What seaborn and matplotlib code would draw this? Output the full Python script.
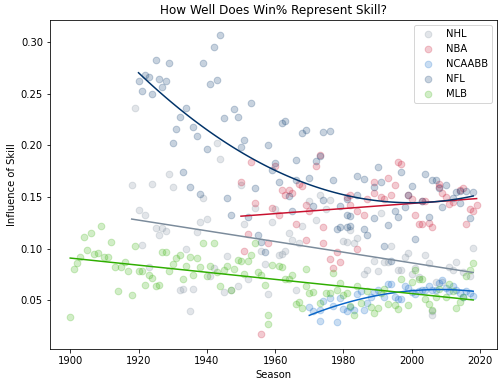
# ==========================================================
# HOW WELL DOES WIN% REPRESENT SKILL?
# ==========================================================

import pandas as pd
import matplotlib
matplotlib.use("Agg")
import matplotlib.pyplot as plt
import seaborn as sns

# ==========================================================
# DATA
# ==========================================================

leagues = ["NHL", "NBA", "NCAABB", "NFL", "MLB"]

nhl_years = [1918, 1919, 1920, 1921, 1922, 1923, 1924, 1925, 1926, 1927,
             1928, 1929, 1930, 1932, 1933, 1934, 1935, 1936, 1937, 1938,
             1939, 1940, 1941, 1942, 1943, 1944, 1945, 1946, 1947, 1949,
             1950, 1951, 1952, 1954, 1956, 1957, 1958, 1959, 1960, 1961,
             1962, 1963, 1964, 1965, 1966, 1967, 1968, 1970, 1972, 1973,
             1975, 1976, 1980, 1981, 1982, 1983, 1984, 1986, 1987, 1989,
             1990, 1991, 1992, 1993, 1994, 1996, 1997, 1998, 1999, 2000,
             2001, 2002, 2004, 2005, 2006, 2006, 2007, 2009, 2011, 2012,
             2013, 2015, 2017, 2018]
nhl_vals = [0.162, 0.236, 0.137, 0.103, 0.133, 0.082, 0.163, 0.120, 0.113, 0.120,
            0.117, 0.172, 0.160, 0.060, 0.061, 0.100, 0.039, 0.061, 0.116, 0.126,
            0.149, 0.129, 0.073, 0.081, 0.202, 0.187, 0.058, 0.093, 0.060, 0.064,
            0.162, 0.124, 0.070, 0.139, 0.098, 0.085, 0.056, 0.126, 0.138, 0.094,
            0.095, 0.098, 0.115, 0.108, 0.060, 0.105, 0.122, 0.146, 0.128, 0.152,
            0.138, 0.147, 0.107, 0.106, 0.118, 0.105, 0.110, 0.075, 0.079, 0.088,
            0.078, 0.134, 0.087, 0.087, 0.102, 0.079, 0.079, 0.092, 0.096, 0.075,
            0.081, 0.072, 0.094, 0.086, 0.039, 0.036, 0.068, 0.068, 0.082, 0.079,
            0.087, 0.077, 0.073, 0.101]

nba_years = [1950, 1951, 1952, 1953, 1954, 1956, 1958, 1959, 1960, 1961,
             1962, 1963, 1964, 1965, 1966, 1967, 1968, 1969, 1969, 1970,
             1972, 1973, 1974, 1974, 1976, 1977, 1978, 1979, 1981, 1982,
             1982, 1984, 1984, 1986, 1987, 1989, 1989, 1991, 1992, 1993,
             1994, 1995, 1996, 1997, 1999, 2000, 2001, 2002, 2003, 2003,
             2004, 2005, 2006, 2008, 2008, 2009, 2010, 2011, 2012, 2014,
             2015, 2016, 2017, 2018, 2019]
nba_vals = [0.165, 0.098, 0.114, 0.184, 0.144, 0.017, 0.105, 0.139, 0.180, 0.133,
            0.157, 0.152, 0.157, 0.154, 0.124, 0.163, 0.161, 0.142, 0.108, 0.136,
            0.180, 0.191, 0.121, 0.105, 0.090, 0.081, 0.097, 0.087, 0.150, 0.142,
            0.152, 0.136, 0.100, 0.133, 0.148, 0.154, 0.165, 0.150, 0.148, 0.168,
            0.152, 0.162, 0.184, 0.182, 0.152, 0.148, 0.133, 0.124, 0.146, 0.124,
            0.146, 0.125, 0.121, 0.163, 0.160, 0.154, 0.150, 0.143, 0.145, 0.157,
            0.159, 0.124, 0.138, 0.136, 0.142]

ncaabb_years = [1970, 1971, 1973, 1973, 1974, 1976, 1977, 1978, 1979, 1980,
                1981, 1982, 1983, 1984, 1985, 1986, 1987, 1988, 1989, 1990,
                1992, 1993, 1994, 1995, 1996, 1997, 1998, 1999, 2000, 2001,
                2002, 2003, 2004, 2005, 2006, 2007, 2008, 2009, 2010, 2011,
                2012, 2013, 2014, 2015, 2016, 2017, 2018]
ncaabb_vals = [0.043, 0.039, 0.030, 0.040, 0.049, 0.052, 0.044, 0.029, 0.052, 0.041,
               0.039, 0.043, 0.040, 0.056, 0.059, 0.040, 0.047, 0.053, 0.058, 0.060,
               0.053, 0.066, 0.066, 0.053, 0.051, 0.051, 0.064, 0.062, 0.058, 0.056,
               0.059, 0.060, 0.060, 0.064, 0.060, 0.060, 0.067, 0.069, 0.062, 0.059,
               0.064, 0.060, 0.057, 0.053, 0.059, 0.057, 0.054]

nfl_years = [1920, 1921, 1922, 1923, 1924, 1925, 1926, 1927, 1928, 1929,
             1930, 1931, 1932, 1933, 1934, 1935, 1936, 1937, 1938, 1939,
             1940, 1941, 1942, 1943, 1944, 1945, 1946, 1947, 1948, 1949,
             1950, 1951, 1952, 1953, 1954, 1955, 1956, 1957, 1958, 1959,
             1960, 1961, 1962, 1963, 1964, 1965, 1966, 1966, 1968, 1969,
             1970, 1971, 1972, 1973, 1974, 1974, 1976, 1977, 1978, 1979,
             1979, 1981, 1981, 1981, 1982, 1982, 1984, 1984, 1986, 1986,
             1987, 1989, 1989, 1990, 1991, 1992, 1993, 1994, 1995, 1996,
             1997, 1998, 1999, 2000, 2001, 2003, 2004, 2005, 2006, 2007,
             2008, 2009, 2010, 2012, 2013, 2014, 2014, 2016, 2017, 2018]
nfl_vals = [0.262, 0.253, 0.268, 0.266, 0.250, 0.283, 0.264, 0.257, 0.262, 0.280,
            0.202, 0.216, 0.228, 0.174, 0.236, 0.160, 0.218, 0.209, 0.153, 0.280,
            0.197, 0.260, 0.295, 0.263, 0.307, 0.227, 0.149, 0.133, 0.235, 0.228,
            0.198, 0.205, 0.131, 0.241, 0.159, 0.113, 0.106, 0.097, 0.200, 0.176,
            0.183, 0.165, 0.222, 0.224, 0.151, 0.136, 0.166, 0.186, 0.212, 0.215,
            0.168, 0.141, 0.185, 0.190, 0.147, 0.213, 0.214, 0.166, 0.119, 0.121,
            0.141, 0.121, 0.148, 0.133, 0.132, 0.122, 0.170, 0.152, 0.167, 0.119,
            0.113, 0.160, 0.130, 0.179, 0.165, 0.102, 0.123, 0.088, 0.136, 0.131,
            0.174, 0.140, 0.152, 0.161, 0.109, 0.146, 0.172, 0.131, 0.166, 0.166,
            0.159, 0.140, 0.162, 0.149, 0.155, 0.156, 0.144, 0.156, 0.130, 0.155]

mlb_years = [1900, 1901, 1902, 1903, 1904, 1905, 1906, 1907, 1908, 1909,
             1910, 1911, 1912, 1913, 1914, 1915, 1916, 1917, 1918, 1919,
             1920, 1921, 1922, 1923, 1924, 1925, 1926, 1927, 1928, 1929,
             1930, 1931, 1932, 1933, 1934, 1935, 1936, 1937, 1938, 1939,
             1940, 1941, 1942, 1943, 1944, 1945, 1946, 1947, 1948, 1949,
             1950, 1951, 1952, 1953, 1954, 1955, 1956, 1957, 1958, 1958,
             1959, 1961, 1962, 1963, 1964, 1965, 1966, 1967, 1968, 1969,
             1969, 1970, 1971, 1973, 1975, 1976, 1977, 1978, 1979, 1980,
             1981, 1982, 1983, 1984, 1985, 1987, 1988, 1989, 1990, 1991,
             1992, 1993, 1995, 1996, 1997, 1999, 2000, 2001, 2002, 2003,
             2004, 2005, 2006, 2007, 2008, 2010, 2011, 2012, 2013, 2014,
             2015, 2016, 2017, 2018]
mlb_vals = [0.034, 0.080, 0.086, 0.092, 0.111, 0.099, 0.115, 0.095, 0.096, 0.122,
            0.092, 0.092, 0.106, 0.082, 0.059, 0.082, 0.087, 0.078, 0.055, 0.102,
            0.078, 0.078, 0.065, 0.074, 0.071, 0.064, 0.065, 0.097, 0.097, 0.078,
            0.085, 0.091, 0.094, 0.070, 0.083, 0.092, 0.074, 0.091, 0.082, 0.105,
            0.073, 0.083, 0.105, 0.077, 0.064, 0.079, 0.083, 0.060, 0.080, 0.089,
            0.088, 0.075, 0.088, 0.094, 0.105, 0.077, 0.074, 0.065, 0.036, 0.027,
            0.084, 0.083, 0.082, 0.070, 0.070, 0.074, 0.046, 0.048, 0.042, 0.080,
            0.064, 0.057, 0.058, 0.047, 0.057, 0.057, 0.076, 0.060, 0.067, 0.055,
            0.057, 0.044, 0.036, 0.064, 0.047, 0.059, 0.043, 0.037, 0.042, 0.057,
            0.061, 0.046, 0.045, 0.041, 0.070, 0.045, 0.068, 0.079, 0.070, 0.070,
            0.051, 0.046, 0.040, 0.053, 0.061, 0.053, 0.066, 0.059, 0.042, 0.048,
            0.053, 0.073, 0.079, 0.086]

colors = {
    "NHL": "#7b8b9b",
    "NBA": "#c8102e",
    "NCAABB": "#0a66c8",
    "NFL": "#013369",
    "MLB": "#2fae00",
}

# fit order per league (curved for NCAABB and NFL)
orders = {"NHL": 1, "NBA": 1, "NCAABB": 2, "NFL": 2, "MLB": 1}

data = {
    "NHL": (nhl_years, nhl_vals),
    "NBA": (nba_years, nba_vals),
    "NCAABB": (ncaabb_years, ncaabb_vals),
    "NFL": (nfl_years, nfl_vals),
    "MLB": (mlb_years, mlb_vals),
}

# ==========================================================
# PLOT
# ==========================================================

fig, ax = plt.subplots(figsize=(7, 5.375), dpi=72)
fig.subplots_adjust(left=0.099, right=0.986, bottom=0.098, top=0.948)

for league in leagues:
    years, vals = data[league]
    df = pd.DataFrame({"Season": years, "Skill": vals})
    sns.regplot(
        data=df,
        x="Season",
        y="Skill",
        order=orders[league],
        ci=None,
        color=colors[league],
        label=league,
        scatter_kws={"alpha": 0.22, "s": 45},
        line_kws={"linewidth": 1.5},
        ax=ax,
    )

ax.set_title("How Well Does Win% Represent Skill?")
ax.set_xlabel("Season")
ax.set_ylabel("Influence of Skill")
ax.legend(loc="upper right")

plt.savefig("out.png", dpi=72)
